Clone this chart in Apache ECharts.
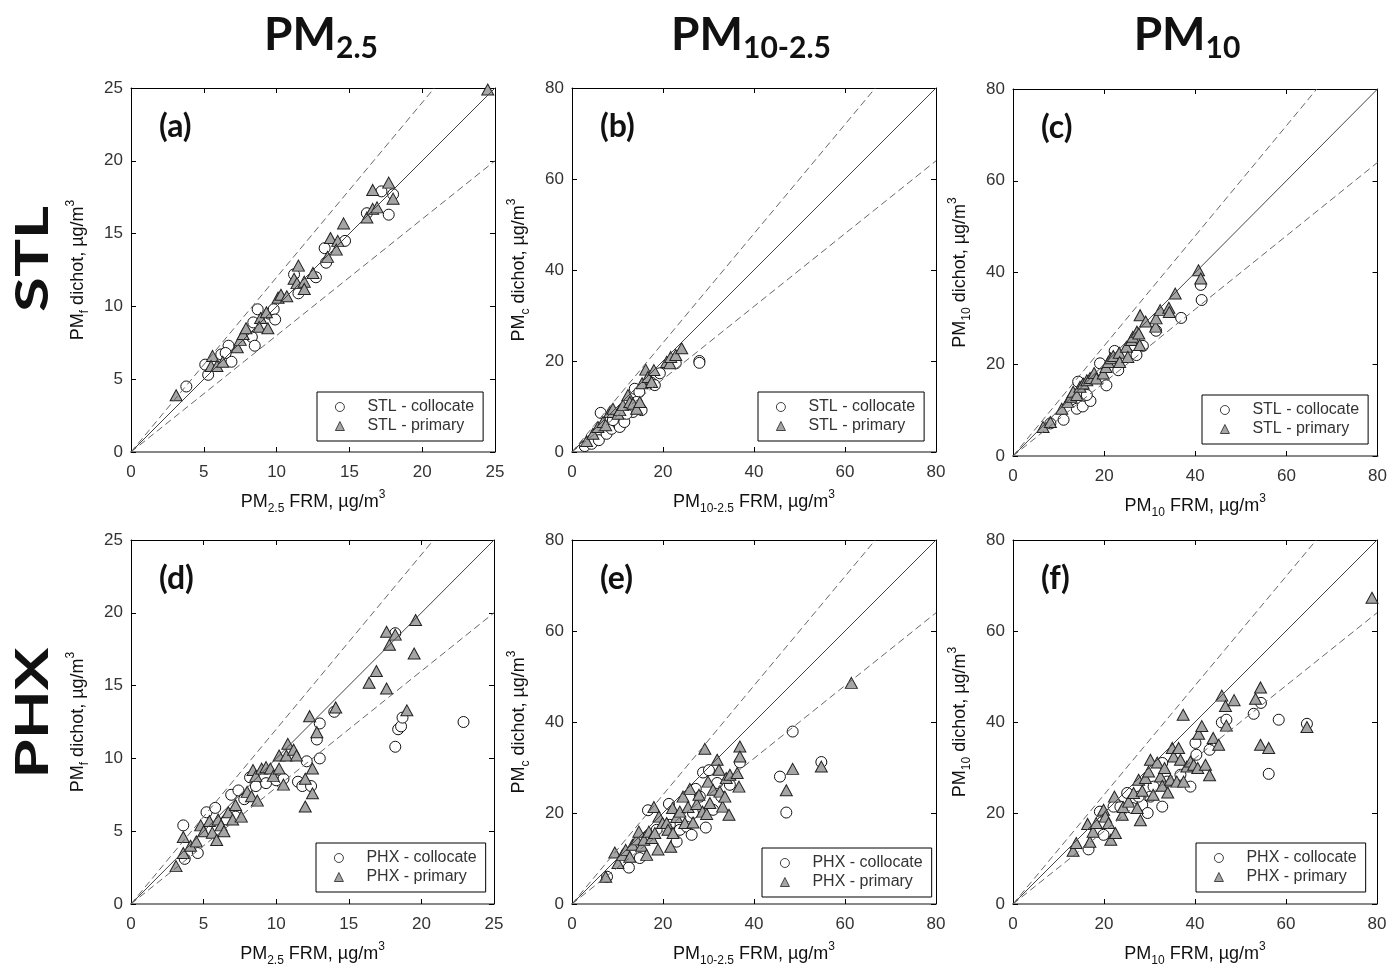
<!DOCTYPE html>
<html>
<head>
<meta charset="utf-8">
<script src="https://cdn.jsdelivr.net/npm/echarts@6/dist/echarts.min.js"></script>
<style>
  html, body { margin: 0; padding: 0; background: #fff; }
  #main { width: 1390px; height: 968px; }
</style>
</head>
<body>
<div id="main"></div>
<script>
// data: [FRM, dichot] pairs
var stlFineCol = [[3.8,4.5],[5.1,6.0],[5.3,5.3],[6.2,6.7],[6.7,7.3],[6.9,6.2],[6.5,6.8],[8.3,7.9],[8.5,7.3],[8.7,9.8],[8.4,8.9],[9.5,9.5],[9.8,9.8],[9.9,9.1],[11.2,12.2],[11.5,10.9],[12.7,12.0],[13.3,14.0],[13.4,13.0],[14.7,14.5],[16.2,16.4],[17.2,17.9],[17.7,16.3],[18.0,17.7]];
var stlFinePri = [[3.1,3.9],[5.6,6.6],[5.5,5.9],[5.9,5.9],[6.3,6.2],[7.3,7.2],[7.5,7.7],[7.7,8.1],[7.9,8.5],[8.9,9.2],[8.8,8.6],[9.4,8.5],[9.3,9.6],[10.1,10.6],[10.3,10.8],[10.7,10.7],[11.2,11.9],[11.5,12.8],[11.4,11.6],[11.9,11.7],[11.9,11.2],[12.5,12.3],[13.5,13.4],[13.7,14.7],[14.2,14.5],[14.1,13.9],[14.6,15.7],[16.2,16.1],[16.6,18.0],[16.6,16.7],[16.9,16.8],[17.7,18.5],[18.0,17.4],[24.5,24.9]];
var stlCoarseCol = [[2.8,1.3],[4.3,1.8],[5.9,2.6],[6.3,8.6],[7.6,4.0],[8.7,5.1],[10.1,6.2],[10.5,5.5],[11.5,6.6],[12.8,9.9],[13.4,8.8],[13.8,13.9],[14.8,13.2],[15.3,9.2],[14.2,11.0],[17.5,15.2],[18.2,14.7],[19.3,17.3],[22.8,19.5],[28.0,20.0],[28.0,19.6],[9.0,7.0],[12.0,8.4]];
var stlCoarsePri = [[3.2,2.4],[4.6,4.0],[5.7,5.5],[6.8,6.6],[7.4,5.9],[8.3,8.8],[9.0,9.5],[10.1,8.4],[10.5,9.2],[11.2,10.3],[12.3,12.5],[12.7,11.0],[13.4,10.6],[14.2,9.5],[14.9,11.0],[15.4,15.1],[16.2,18.1],[16.7,16.5],[18.0,18.0],[17.5,15.4],[20.8,19.8],[21.5,19.5],[21.7,20.9],[22.8,21.3],[24.1,22.8]];
var stlPm10Col = [[8.2,7.1],[11.1,7.9],[14.0,10.3],[15.3,10.8],[17.0,12.0],[14.3,16.2],[16.2,13.3],[20.5,15.4],[22.3,22.9],[23.1,18.7],[25.2,22.3],[27.1,22.0],[28.5,24.0],[31.4,27.3],[36.9,30.1],[41.2,37.3],[41.4,34.0],[19.1,20.2]];
var stlPm10Pri = [[6.6,6.3],[8.2,7.4],[10.7,10.3],[12.0,11.8],[12.7,12.9],[13.2,14.0],[14.0,13.3],[14.7,15.1],[15.4,15.8],[16.2,16.5],[16.9,17.0],[17.8,18.1],[18.3,16.9],[19.8,18.0],[20.4,19.4],[20.9,20.5],[21.4,21.3],[22.0,21.8],[23.3,22.5],[23.4,20.5],[24.9,23.8],[25.2,21.6],[26.0,25.3],[26.3,26.0],[27.2,27.1],[27.6,26.7],[27.8,24.2],[27.9,30.7],[29.1,29.3],[31.3,28.2],[31.4,30.0],[32.3,31.8],[34.2,32.3],[34.3,31.4],[35.6,35.4],[40.7,40.5],[41.2,38.7]];
var phxFineCol = [[3.6,5.4],[3.7,3.1],[4.6,3.5],[5.2,6.3],[5.8,6.6],[6.9,7.5],[7.4,7.8],[7.2,6.0],[8.2,8.7],[8.6,8.1],[9.3,8.3],[10.0,8.5],[10.5,8.6],[11.5,8.4],[11.8,8.1],[12.1,9.8],[12.4,8.1],[12.8,11.3],[13.0,12.4],[13.0,10.0],[18.2,10.8],[18.2,18.6],[18.4,12.0],[18.6,12.2],[18.7,12.8],[22.9,12.5],[14.0,13.2],[6.6,5.8],[7.8,7.2]];
var phxFinePri = [[3.1,2.6],[3.6,3.5],[3.6,4.6],[4.1,4.0],[4.5,4.3],[4.8,5.4],[5.0,5.0],[5.4,5.7],[5.6,4.9],[5.9,4.4],[6.0,5.8],[6.2,5.4],[6.4,5.0],[6.7,6.3],[7.0,5.8],[7.2,6.8],[7.6,6.0],[8.0,7.7],[8.3,7.4],[8.4,9.2],[8.7,7.1],[8.6,8.8],[9.0,9.3],[9.3,9.4],[9.6,9.3],[9.8,8.8],[10.2,9.3],[10.2,10.2],[10.5,8.2],[10.7,10.2],[10.8,11.0],[11.2,10.6],[11.4,10.2],[12.0,8.6],[12.0,6.7],[12.3,12.9],[12.5,7.6],[12.5,9.3],[12.8,11.8],[14.1,13.5],[16.4,15.2],[16.9,16.0],[17.6,18.7],[17.6,14.8],[17.8,17.8],[18.2,18.5],[19.0,13.3],[19.5,17.2],[19.6,19.5]];
var phxCoarseCol = [[7.7,6.0],[12.5,8.0],[14.9,10.1],[16.7,14.8],[16.7,20.6],[18.6,16.3],[21.3,22.0],[21.5,17.4],[23.0,13.7],[23.7,16.3],[25.2,17.0],[26.3,15.2],[26.6,20.0],[27.2,25.3],[28.8,28.9],[29.4,16.8],[30.1,29.4],[31.0,20.7],[31.9,26.6],[32.8,23.6],[34.7,26.2],[36.9,31.1],[45.7,28.0],[47.1,20.1],[48.5,37.9],[54.8,31.2],[28.1,23.6]];
var phxCoarsePri = [[7.4,6.0],[9.4,11.3],[10.1,9.0],[11.1,10.8],[11.8,11.9],[12.7,10.4],[13.3,13.0],[14.2,14.2],[14.7,15.9],[15.3,12.8],[15.8,14.1],[16.4,10.8],[16.9,15.9],[17.5,14.5],[18.0,21.3],[18.2,15.6],[18.9,12.0],[19.1,19.2],[19.9,17.8],[20.8,17.8],[21.1,16.3],[21.7,12.6],[22.1,21.1],[22.2,15.6],[23.0,19.1],[23.7,20.3],[24.4,23.6],[24.8,17.8],[25.5,21.3],[25.9,25.3],[26.6,17.9],[27.4,22.0],[27.9,24.0],[28.7,20.3],[29.2,34.1],[29.6,19.8],[29.9,26.9],[30.3,22.2],[31.0,25.1],[31.9,31.7],[32.3,29.5],[32.5,24.7],[33.1,21.4],[33.6,23.6],[33.9,27.7],[34.5,19.6],[34.7,28.4],[36.3,28.8],[36.7,25.8],[36.9,34.6],[36.9,32.4],[47.1,25.0],[48.5,29.7],[54.8,30.2],[61.4,48.6]];
var phxPm10Col = [[16.6,12.0],[19.1,20.3],[19.9,15.2],[22.1,21.4],[25.1,24.4],[26.2,21.1],[28.4,21.8],[29.6,20.0],[30.2,23.6],[30.9,25.8],[32.8,21.4],[32.8,31.0],[33.9,26.9],[36.8,28.4],[39.0,25.8],[40.1,35.4],[40.3,32.8],[43.2,33.9],[45.9,39.9],[46.9,40.5],[52.9,41.8],[54.5,44.2],[58.4,40.5],[56.2,28.6],[64.6,39.6],[27.6,23.6],[23.6,21.4]];
var phxPm10Pri = [[13.2,11.7],[13.9,13.4],[16.4,17.6],[16.9,13.7],[17.6,15.9],[18.3,17.8],[19.9,20.7],[20.3,19.2],[21.0,17.8],[21.5,14.1],[22.3,23.6],[22.5,15.6],[24.0,19.6],[24.2,21.3],[25.4,22.5],[26.5,24.4],[27.3,21.1],[27.6,27.3],[28.0,18.4],[28.4,24.9],[29.1,27.7],[29.8,29.1],[30.2,31.7],[30.8,24.0],[31.7,31.1],[32.4,28.0],[32.8,26.0],[33.3,29.9],[34.0,24.5],[34.6,27.3],[35.0,34.3],[35.3,32.4],[36.0,26.9],[36.4,34.3],[36.8,31.7],[37.4,41.6],[37.5,26.9],[38.2,30.2],[39.0,31.3],[39.7,30.6],[40.6,29.9],[40.8,37.4],[41.5,39.1],[42.3,30.6],[43.2,28.3],[44.0,36.5],[45.2,35.0],[45.9,45.8],[46.7,43.5],[46.9,39.2],[48.6,44.8],[53.3,45.1],[54.4,47.6],[54.4,35.0],[56.2,34.3],[64.6,38.9],[78.9,67.3]];

// 1:1 line and the +/-20% lines
var refSlopes = [1, 1.2, 0.8];
var fineTicks = [0, 25, 5];
var coarseTicks = [0, 80, 20];

var FONT = '"Liberation Sans", Arial, sans-serif';
var TITLEFONT = 'Lato, "Open Sans", sans-serif';

var names = {
  fine:   { x: '{m|PM}{s|2.5}{m| FRM, µg/m}{p|3}',    y: '{m|PM}{s|f}{m| dichot, µg/m}{p|3}' },
  coarse: { x: '{m|PM}{s|10-2.5}{m| FRM, µg/m}{p|3}', y: '{m|PM}{s|c}{m| dichot, µg/m}{p|3}' },
  pm10:   { x: '{m|PM}{s|10}{m| FRM, µg/m}{p|3}',     y: '{m|PM}{s|10}{m| dichot, µg/m}{p|3}' }
};

var panels = [
  { tag: '(a)', site: 'STL', kind: 'fine',   col: stlFineCol,   pri: stlFinePri,   ticks: fineTicks,   box: [131, 88, 364, 364],  leg: [317, 392] },
  { tag: '(b)', site: 'STL', kind: 'coarse', col: stlCoarseCol, pri: stlCoarsePri, ticks: coarseTicks, box: [572, 88, 364, 364],  leg: [758, 392] },
  { tag: '(c)', site: 'STL', kind: 'pm10',   col: stlPm10Col,   pri: stlPm10Pri,   ticks: coarseTicks, box: [1013, 89, 366, 367], leg: [1202, 395] },
  { tag: '(d)', site: 'PHX', kind: 'fine',   col: phxFineCol,   pri: phxFinePri,   ticks: fineTicks,   box: [131, 540, 363, 364], leg: [316, 843] },
  { tag: '(e)', site: 'PHX', kind: 'coarse', col: phxCoarseCol, pri: phxCoarsePri, ticks: coarseTicks, box: [572, 540, 364, 364], leg: [762, 848] },
  { tag: '(f)', site: 'PHX', kind: 'pm10',   col: phxPm10Col,   pri: phxPm10Pri,   ticks: coarseTicks, box: [1013, 540, 364, 364], leg: [1196, 843] }
];

var nameRich = {
  m: { fontSize: 18, fontFamily: FONT, color: '#111', lineHeight: 26 },
  s: { fontSize: 12, fontFamily: FONT, color: '#111', lineHeight: 12, verticalAlign: 'bottom' },
  p: { fontSize: 12, fontFamily: FONT, color: '#111', lineHeight: 12, verticalAlign: 'top' }
};

var grids = [], xAxes = [], yAxes = [], series = [], legends = [], graphics = [];

panels.forEach(function (p, i) {
  var min = p.ticks[0], max = p.ticks[1], step = p.ticks[2];
  grids.push({ left: p.box[0], top: p.box[1], width: p.box[2], height: p.box[3], containLabel: false });

  var base = {
    type: 'value', gridIndex: i, min: min, max: max, interval: step,
    splitLine: { show: false },
    axisTick: { inside: true, length: 5, lineStyle: { color: '#000' } }
  };
  xAxes.push(Object.assign({}, base, {
    position: 'bottom',
    axisLine: { onZero: false, lineStyle: { color: '#888', width: 2 } },
    axisLabel: { fontSize: 17, fontFamily: FONT, color: '#333', margin: 12 },
    name: names[p.kind].x, nameLocation: 'middle', nameGap: 37,
    nameTextStyle: { rich: nameRich }
  }));
  xAxes.push(Object.assign({}, base, {
    position: 'top',
    axisLine: { onZero: false, lineStyle: { color: '#000', width: 1 } },
    axisLabel: { show: false }
  }));
  yAxes.push(Object.assign({}, base, {
    position: 'left',
    axisLine: { onZero: false, lineStyle: { color: '#000', width: 1 } },
    axisLabel: { fontSize: 17, fontFamily: FONT, color: '#333', margin: 8 },
    name: names[p.kind].y, nameLocation: 'middle', nameGap: 40,
    nameTextStyle: { rich: nameRich }
  }));
  yAxes.push(Object.assign({}, base, {
    position: 'right',
    axisLine: { onZero: false, lineStyle: { color: '#000', width: 1 } },
    axisLabel: { show: false }
  }));

  refSlopes.forEach(function (s) {
    var xe = Math.min(max, max / s);
    series.push({
      type: 'line', xAxisIndex: 2 * i, yAxisIndex: 2 * i,
      data: [[0, 0], [xe, xe * s]],
      symbol: 'none', silent: true,
      lineStyle: s === 1 ? { color: '#444', width: 1 } : { color: '#666', width: 1, type: [7, 4] }
    });
  });

  series.push({
    name: p.site + ' - collocate', type: 'scatter', xAxisIndex: 2 * i, yAxisIndex: 2 * i,
    data: p.col, symbol: 'circle', symbolSize: 11,
    itemStyle: { color: '#fff', borderColor: '#111', borderWidth: 1, opacity: 1 }
  });
  series.push({
    name: p.site + ' - primary', type: 'scatter', xAxisIndex: 2 * i, yAxisIndex: 2 * i,
    data: p.pri, symbol: 'triangle', symbolSize: [12, 11],
    itemStyle: { color: '#a5a5a5', borderColor: '#222', borderWidth: 1, opacity: 1 }
  });

  legends.push({
    orient: 'vertical', left: p.leg[0], top: p.leg[1],
    data: [p.site + ' - collocate', p.site + ' - primary'],
    backgroundColor: '#fff', borderColor: '#000', borderWidth: 1, borderRadius: 0,
    padding: [7, 9, 7, 18], itemWidth: 9, itemHeight: 9, itemGap: 3,
    selectedMode: false,
    itemStyle: { borderWidth: 0.8 },
    textStyle: { fontSize: 16, fontFamily: FONT, color: '#333', lineHeight: 16, padding: [0, 0, 0, 18] }
  });

  graphics.push({
    type: 'text', left: p.box[0] + 28, top: p.box[1] + 23, z: 10,
    style: { text: p.tag, font: 'bold 32px ' + TITLEFONT, fill: '#111' }
  });
});

// column headers
var headers = [['2.5', 321], ['10-2.5', 751], ['10', 1187]];
headers.forEach(function (h) {
  graphics.push({
    type: 'text', x: h[1], y: 35, z: 10,
    style: {
      text: '{m|PM}{s|' + h[0] + '}', align: 'center', verticalAlign: 'middle',
      rich: {
        m: { font: 'bold 46px ' + TITLEFONT, fill: '#111', lineHeight: 56 },
        s: { font: 'bold 30px ' + TITLEFONT, fill: '#111', lineHeight: 30, verticalAlign: 'bottom' }
      }
    }
  });
});

// row labels
[['STL', 259], ['PHX', 713]].forEach(function (r) {
  graphics.push({
    type: 'text', x: 33, y: r[1], rotation: Math.PI / 2, scaleX: 1.38, z: 10,
    style: { text: r[0], font: 'bold 46px ' + TITLEFONT, fill: '#111', align: 'center', verticalAlign: 'middle' }
  });
});

var chart = echarts.init(document.getElementById('main'));
chart.setOption({
  backgroundColor: '#fff',
  animation: false,
  grid: grids,
  xAxis: xAxes,
  yAxis: yAxes,
  legend: legends,
  series: series,
  graphic: graphics
});
</script>
</body>
</html>
